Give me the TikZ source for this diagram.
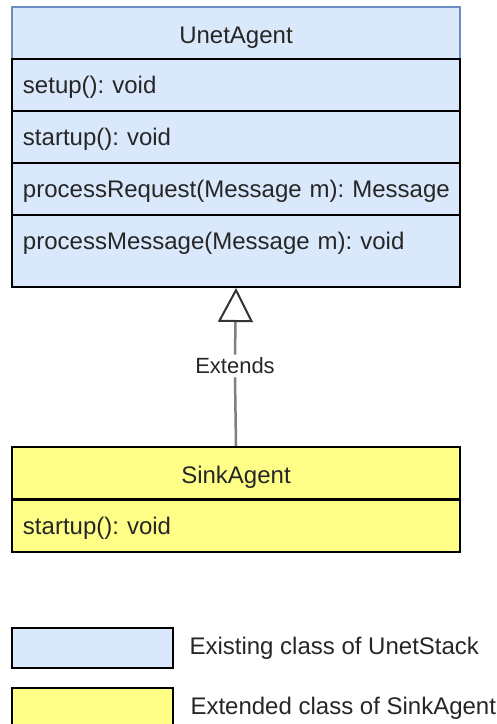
\documentclass[tikz,border=0pt]{standalone}
\usepackage{fontspec}
\setmainfont{Liberation Sans}
\usetikzlibrary{arrows.meta,positioning}

\definecolor{existblue}{HTML}{DAE8FC}
\definecolor{headblue}{HTML}{6C8EBF}
\definecolor{extyellow}{HTML}{FFFF88}
\definecolor{linkgrey}{HTML}{7F7F7F}
\newcommand{\umlfont}{\fontsize{24}{28}\selectfont\frenchspacing}

\begin{document}
\begin{tikzpicture}[x=1pt, y=-1pt,
    every node/.style={font=\umlfont, text=black!85},
    classhead/.style={draw, line width=2pt, minimum width=448pt, inner sep=0pt,
        text height=36pt, text depth=16pt, anchor=north west},
    member/.style={draw, line width=2pt, text width=426pt, inner xsep=11pt,
        inner ysep=0pt, text height=34pt, text depth=18pt, align=left,
        anchor=north west},
    legendbox/.style={draw, line width=2pt, minimum width=161pt,
        minimum height=40pt, inner sep=0pt, anchor=north west},
    extendline/.style={draw=linkgrey, line width=2.5pt}]
   \useasboundingbox (0,0) rectangle (497,724);

   % UnetAgent
   \node[classhead, draw=headblue, fill=existblue] (unet) at (11,6) {UnetAgent};
   \node[member, fill=existblue] (setup) at (11,58) {setup(): void};
   \node[member, fill=existblue] (startup) at (11,110) {startup(): void};
   \node[member, fill=existblue] (request) at (11,162) {\mbox{processRequest(Message m): Message}};
   \node[member, fill=existblue, text depth=38pt] (message) at (11,214) {processMessage(Message m): void};

   % SinkAgent
   \node[classhead, fill=extyellow] (sink) at (11,446) {SinkAgent};
   \node[member, fill=extyellow] (sinkstartup) at (11,499) {startup(): void};

   % extends
   \node[inner sep=3pt, font=\fontsize{22}{26}\selectfont] (ext) at (235,366) {Extends};
   \draw[extendline] (sink.north) -- (ext.south);
   \draw[extendline, -{Triangle[length=34pt, width=35pt, fill=white, color=black!80, line width=2pt]}]
      (ext.north) -- (message.south);

   % legend
   \node[legendbox, fill=existblue] (legexist) at (11,627) {};
   \node[legendbox, fill=extyellow] (legext) at (11,687) {};
   \node[anchor=west] (legexisttext) at ([xshift=12pt]legexist.east) {Existing class of UnetStack};
   \node[anchor=west] (legexttext) at ([xshift=13pt]legext.east) {Extended class of SinkAgent};
\end{tikzpicture}
\end{document}
